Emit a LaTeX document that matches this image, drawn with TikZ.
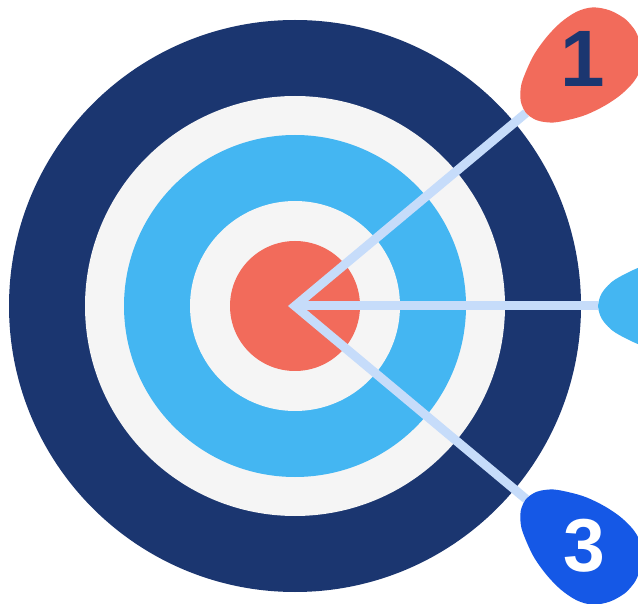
\documentclass[tikz,border=0pt]{standalone}
\usepackage{fontspec}
\setmainfont{Liberation Sans}
\definecolor{navy}{HTML}{1B3670}
\definecolor{ringwhite}{HTML}{F5F5F5}
\definecolor{ringblue}{HTML}{44B6F2}
\definecolor{bullred}{HTML}{F26B5B}
\definecolor{linkblue}{HTML}{C6DCFA}
\definecolor{pinblue}{HTML}{1558E6}
\tikzset{
  ring/.style={fill=#1, draw=none},
  link/.style={draw=linkblue, line width=9pt, line join=miter},
  pinfill/.style={fill=#1, draw=none},
  digit/.style={font=\fontsize{#1}{#1}\selectfont\bfseries, inner sep=0pt},
}
\newcommand{\eggpath}{plot[smooth cycle, tension=0.55] coordinates {
 (0,0) (2,-9) (6,-16) (15,-25) (29,-33) (45,-40) (65,-45) (85,-47) (104,-45) (119,-38) (130,-25) (136,-10) (137,0)
 (136,10) (130,25) (119,38) (104,45) (85,47) (65,45) (45,40) (29,33) (15,25) (6,16) (2,9)}}
\begin{document}
\begin{tikzpicture}[x=1pt, y=-1pt]
\useasboundingbox (0,0) rectangle (638,604);
\clip (0,0) rectangle (638,604);
\fill[white] (0,0) rectangle (638,604);
\coordinate (c) at (295,306);
\coordinate (tip1) at (526,113);
\coordinate (tip2) at (598,306);
\coordinate (tip3) at (526,499);
% target
\fill[ring=navy] (c) circle[radius=286pt];
\fill[ring=ringwhite] (c) circle[radius=210pt];
\fill[ring=ringblue] (c) circle[radius=171pt];
\fill[ring=ringwhite] (c) circle[radius=105pt];
\fill[ring=bullred] (c) circle[radius=65pt];
% connectors
\draw[link] (tip1) -- (c) -- (tip3);
\draw[link] (c) -- (tip2);
% pins
\begin{scope}[shift={(tip1)}, rotate=40]
\fill[pinfill=bullred] \eggpath;
\end{scope}
\begin{scope}[shift={(tip3)}, rotate=-40]
\fill[pinfill=pinblue] \eggpath;
\end{scope}
\begin{scope}[shift={(tip2)}]
\fill[pinfill=ringblue] \eggpath;
\end{scope}
\node[digit=80, text=navy] (n1) at (583,59) {1};
\node[digit=75, text=white] (n3) at (584,546) {3};
\end{tikzpicture}
\end{document}
